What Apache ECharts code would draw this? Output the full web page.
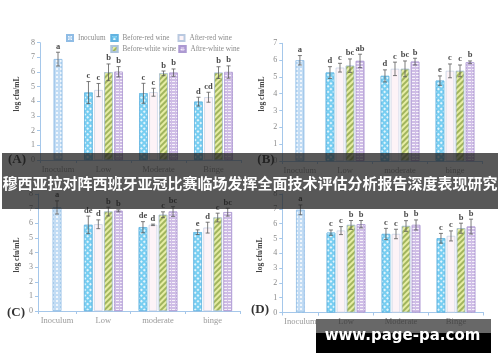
<!DOCTYPE html>
<html><head><meta charset="utf-8">
<script src="https://cdn.jsdelivr.net/npm/echarts@6/dist/echarts.min.js"></script>
<style>html,body{margin:0;padding:0;background:#fff}#c{width:500px;height:362px}</style>
</head><body><div id="c"></div>
<script>
// ---------- data ----------
const seriesNames = ['Inoculum', 'Before-red wine', 'After-red wine', 'Before-white wine', 'Aftre-white wine'];
const inoculumCategory = ['Inoculum'];
const categoriesA = ['Low', 'Moderate', 'Binge'];
const categoriesB = ['Low', 'moderate', 'binge'];
const categoriesC = ['Low', 'moderate', 'binge'];
const categoriesD = ['Low', 'Moderate', 'Binge'];
const yMaxA = 8, yMaxB = 7, yMaxC = 8, yMaxD = 8;
const yAxisName = 'log cfu/mL';
const title = '穆西亚拉对阵西班牙亚冠比赛临场发挥全面技术评估分析报告深度表现研究';
const watermark = 'www.page-pa.com';

// Panel A
const inocA = [6.88], inocErrA = [0.47], inocLblA = ['a'];
const beforeRedA = [4.6, 4.55, 3.98], beforeRedErrA = [0.75, 0.68, 0.3], beforeRedLblA = ['c', 'c', 'd'];
const afterRedA = [4.77, 4.62, 4.28], afterRedErrA = [0.45, 0.27, 0.34], afterRedLblA = ['c', 'c', 'cd'];
const beforeWhiteA = [5.98, 5.91, 5.96], beforeWhiteErrA = [0.57, 0.16, 0.4], beforeWhiteLblA = ['b', 'b', 'b'];
const afterWhiteA = [6.02, 5.96, 6.0], afterWhiteErrA = [0.35, 0.25, 0.42], afterWhiteLblA = ['b', 'b', 'b'];
// Panel B
const inocB = [5.99], inocErrB = [0.28], inocLblB = ['a'];
const beforeRedB = [5.26, 5.06, 4.78], beforeRedErrB = [0.35, 0.36, 0.28], beforeRedLblB = ['d', 'd', 'e'];
const afterRedB = [5.55, 5.48, 5.36], afterRedErrB = [0.26, 0.4, 0.41], afterRedLblB = ['c', 'c', 'c'];
const beforeWhiteB = [5.67, 5.48, 5.36], beforeWhiteErrB = [0.4, 0.47, 0.35], beforeWhiteLblB = ['bc', 'bc', 'c'];
const afterWhiteB = [5.95, 5.91, 5.87], afterWhiteErrB = [0.4, 0.2, 0.08], afterWhiteLblB = ['ab', 'b', 'b'];
// Panel C
const inocC = [7.08], inocErrC = [0.45], inocLblC = ['a'];
const beforeRedC = [5.89, 5.73, 5.39], beforeRedErrC = [0.6, 0.38, 0.16], beforeRedLblC = ['de', 'de', 'e'];
const afterRedC = [5.93, 5.89, 5.7], afterRedErrC = [0.3, 0.05, 0.37], afterRedLblC = ['d', 'd', 'd'];
const beforeWhiteC = [6.8, 6.58, 6.39], beforeWhiteErrC = [0.3, 0.2, 0.3], beforeWhiteLblC = ['b', 'c', 'c'];
const afterWhiteC = [6.85, 6.8, 6.76], afterWhiteErrC = [0.07, 0.33, 0.27], afterWhiteLblC = ['b', 'bc', 'bc'];
// Panel D
const inocD = [6.93], inocErrD = [0.33], inocLblD = ['a'];
const beforeRedD = [5.39, 5.3, 5.01], beforeRedErrD = [0.18, 0.38, 0.33], beforeRedLblD = ['c', 'c', 'c'];
const afterRedD = [5.53, 5.3, 5.17], afterRedErrD = [0.27, 0.32, 0.34], afterRedLblD = ['c', 'c', 'c'];
const beforeWhiteD = [5.91, 5.84, 5.69], beforeWhiteErrD = [0.3, 0.36, 0.34], beforeWhiteLblD = ['b', 'b', 'b'];
const afterWhiteD = [5.96, 5.91, 5.8], afterWhiteErrD = [0.25, 0.34, 0.5], afterWhiteLblD = ['b', 'b', 'b'];

// ---------- styles ----------
const serif = '"Liberation Serif", "DejaVu Serif", serif';
const axisBlue = '#a5c7ea';
const barStyles = [
  {color: '#c2dcf4', borderColor: '#8fbce5', borderWidth: 0.6,
   decal: {symbol: 'rect', symbolSize: 1, dashArrayX: [1.5, 1.5], dashArrayY: [1.5, 1.5], color: 'rgba(255,255,255,0.75)'}},
  {color: '#78cef1', borderColor: '#62b3e1', borderWidth: 0.6,
   decal: {symbol: 'rect', symbolSize: 1, dashArrayX: [2, 1.5], dashArrayY: [2, 1.5], rotation: Math.PI / 4, color: 'rgba(255,255,255,0.8)'}},
  {color: '#fdf3f7', borderColor: '#b9c9e0', borderWidth: 0.6},
  {color: '#e6eda4', borderColor: '#adc3da', borderWidth: 0.6,
   decal: {symbol: 'rect', symbolSize: 1, dashArrayX: [1, 0], dashArrayY: [1.6, 1.6], rotation: -Math.PI / 4, color: 'rgba(125,150,55,0.65)'}},
  {color: '#cfbde6', borderColor: '#ac99d1', borderWidth: 0.6,
   decal: {symbol: 'rect', symbolSize: 1, dashArrayX: [3, 1], dashArrayY: [1, 1.6], color: 'rgba(255,255,255,0.8)'}}
];
const BAR_W = 8.5, BAR_GAP = 0.18;

const grids = [], xAxes = [], yAxes = [], series = [];

function errSeries(name, xi, yi, vals, errs, lbls, offset) {
  return {
    type: 'custom', name: name + ' err', xAxisIndex: xi, yAxisIndex: yi, z: 5, silent: true,
    data: vals.map((v, i) => [i, v, errs[i]]),
    renderItem: function (params, api) {
      const x = api.value(0), v = api.value(1), e = api.value(2);
      const top = api.coord([x, v + e]);
      const bot = api.coord([x, v - e]);
      const cx = top[0] + offset;
      const ls = {stroke: '#5a5a5a', lineWidth: 0.8};
      return {type: 'group', children: [
        {type: 'line', shape: {x1: cx, y1: top[1], x2: cx, y2: bot[1]}, style: ls},
        {type: 'line', shape: {x1: cx - 2, y1: top[1], x2: cx + 2, y2: top[1]}, style: ls},
        {type: 'line', shape: {x1: cx - 2, y1: bot[1], x2: cx + 2, y2: bot[1]}, style: ls},
        {type: 'text', x: cx, y: top[1] - 1.2, style: {text: lbls[params.dataIndex], textAlign: 'center', textVerticalAlign: 'bottom',
          font: 'bold 8.5px ' + serif, fill: '#4a4a4a'}}
      ]};
    }
  };
}

function panel(cfg) {
  const g1 = grids.length;
  grids.push({left: cfg.axisX, top: cfg.top, width: cfg.mainX - cfg.axisX, height: cfg.bottom - cfg.top});
  grids.push({left: cfg.mainX, top: cfg.top, width: cfg.endX - cfg.mainX, height: cfg.bottom - cfg.top});
  const xCommon = {
    type: 'category',
    axisLine: {lineStyle: {color: axisBlue, width: 1}},
    axisTick: {show: true, length: 3, lineStyle: {color: axisBlue}},
    axisLabel: {fontFamily: serif, fontSize: 8.5, color: '#9a9a9a', margin: 5}
  };
  xAxes.push(Object.assign({}, xCommon, {gridIndex: g1, data: inoculumCategory}));
  xAxes.push(Object.assign({}, xCommon, {gridIndex: g1 + 1, data: cfg.cats}));
  yAxes.push({type: 'value', gridIndex: g1, min: 0, max: cfg.yMax, interval: 1,
    axisLine: {show: true, lineStyle: {color: axisBlue, width: 1}},
    axisTick: {show: true, length: 3, lineStyle: {color: axisBlue}},
    axisLabel: {fontFamily: serif, fontSize: 8, color: '#8a8a8a', margin: 5},
    splitLine: {show: false}});
  yAxes.push({type: 'value', gridIndex: g1 + 1, min: 0, max: cfg.yMax, interval: 1, show: false, splitLine: {show: false}});
  series.push({type: 'bar', name: seriesNames[0], xAxisIndex: g1, yAxisIndex: g1, barWidth: BAR_W,
    itemStyle: barStyles[0], data: cfg.inoc});
  series.push(errSeries(seriesNames[0], g1, g1, cfg.inoc, cfg.inocErr, cfg.inocLbl, 0));
  const step = BAR_W * (1 + BAR_GAP);
  for (let k = 0; k < 4; k++) {
    series.push({type: 'bar', name: seriesNames[k + 1], xAxisIndex: g1 + 1, yAxisIndex: g1 + 1,
      barWidth: BAR_W, barGap: (BAR_GAP * 100) + '%', itemStyle: barStyles[k + 1], data: cfg.vals[k]});
  }
  for (let k = 0; k < 4; k++) {
    series.push(errSeries(seriesNames[k + 1], g1 + 1, g1 + 1, cfg.vals[k], cfg.errs[k], cfg.lbls[k], (k - 1.5) * step));
  }
}

panel({axisX: 40, mainX: 76, endX: 241, top: 42.7, bottom: 160, yMax: yMaxA, cats: categoriesA,
  inoc: inocA, inocErr: inocErrA, inocLbl: inocLblA,
  vals: [beforeRedA, afterRedA, beforeWhiteA, afterWhiteA],
  errs: [beforeRedErrA, afterRedErrA, beforeWhiteErrA, afterWhiteErrA],
  lbls: [beforeRedLblA, afterRedLblA, beforeWhiteLblA, afterWhiteLblA]});
panel({axisX: 282.3, mainX: 317.5, endX: 482.5, top: 43.3, bottom: 161, yMax: yMaxB, cats: categoriesB,
  inoc: inocB, inocErr: inocErrB, inocLbl: inocLblB,
  vals: [beforeRedB, afterRedB, beforeWhiteB, afterWhiteB],
  errs: [beforeRedErrB, afterRedErrB, beforeWhiteErrB, afterWhiteErrB],
  lbls: [beforeRedLblB, afterRedLblB, beforeWhiteLblB, afterWhiteLblB]});
panel({axisX: 38, mainX: 76, endX: 240, top: 194, bottom: 311, yMax: yMaxC, cats: categoriesC,
  inoc: inocC, inocErr: inocErrC, inocLbl: inocLblC,
  vals: [beforeRedC, afterRedC, beforeWhiteC, afterWhiteC],
  errs: [beforeRedErrC, afterRedErrC, beforeWhiteErrC, afterWhiteErrC],
  lbls: [beforeRedLblC, afterRedLblC, beforeWhiteLblC, afterWhiteLblC]});
panel({axisX: 282.3, mainX: 318.5, endX: 483.5, top: 194, bottom: 312.5, yMax: yMaxD, cats: categoriesD,
  inoc: inocD, inocErr: inocErrD, inocLbl: inocLblD,
  vals: [beforeRedD, afterRedD, beforeWhiteD, afterWhiteD],
  errs: [beforeRedErrD, afterRedErrD, beforeWhiteErrD, afterWhiteErrD],
  lbls: [beforeRedLblD, afterRedLblD, beforeWhiteLblD, afterWhiteLblD]});

// legends: one component per item, arranged in two rows above panel A
const legendPos = [[66, 34], [110.5, 34], [177.5, 34], [110.5, 45], [178.5, 45]];
const legends = seriesNames.map((n, i) => ({
  data: [n], left: legendPos[i][0], top: legendPos[i][1], padding: 0, itemGap: 0,
  itemWidth: 6, itemHeight: 6, icon: 'rect', selectedMode: false,
  textStyle: {fontFamily: serif, fontSize: 7.2, color: '#8a8a8a'}
}));

const nameStyle = {font: 'bold 7.5px ' + serif, fill: '#444', textAlign: 'center', textVerticalAlign: 'middle', text: yAxisName};
const letterStyle = (t) => ({font: 'bold 13px ' + serif, fill: '#333', textAlign: 'center', textVerticalAlign: 'middle', text: t});

const graphic = [
  {type: 'text', x: 17, y: 94, rotation: Math.PI / 2, style: nameStyle, z: 10},
  {type: 'text', x: 262, y: 94, rotation: Math.PI / 2, style: nameStyle, z: 10},
  {type: 'text', x: 17, y: 255, rotation: Math.PI / 2, style: nameStyle, z: 10},
  {type: 'text', x: 260, y: 255, rotation: Math.PI / 2, style: nameStyle, z: 10},
  {type: 'text', x: 17, y: 160, style: letterStyle('(A)'), z: 10},
  {type: 'text', x: 266, y: 160, style: letterStyle('(B)'), z: 10},
  {type: 'text', x: 16, y: 312.5, style: letterStyle('(C)'), z: 10},
  {type: 'text', x: 260, y: 309.5, style: letterStyle('(D)'), z: 10},
  // banner
  {type: 'rect', shape: {x: 2, y: 153, width: 496, height: 56}, style: {fill: 'rgba(30,30,30,0.74)'}, z: 100},
  {type: 'text', x: 250, y: 183, style: {text: title, font: 'bold 15px "Noto Sans CJK SC", sans-serif', fill: '#ffffff',
    textAlign: 'center', textVerticalAlign: 'middle'}, z: 101},
  // watermark
  {type: 'rect', shape: {x: 316, y: 319, width: 175, height: 14}, style: {fill: 'rgba(40,40,40,0.7)'}, z: 100},
  {type: 'rect', shape: {x: 316, y: 333, width: 175, height: 20}, style: {fill: '#000000'}, z: 100},
  {type: 'text', x: 402.5, y: 336.5, style: {text: watermark, font: 'bold 15px "DejaVu Sans", sans-serif', fill: '#ffffff',
    textAlign: 'center', textVerticalAlign: 'middle'}, z: 101}
];

const chart = echarts.init(document.getElementById('c'), null, {renderer: 'canvas'});
chart.setOption({
  animation: false,
  backgroundColor: '#ffffff',
  grid: grids, xAxis: xAxes, yAxis: yAxes, series: series,
  legend: legends, graphic: graphic
});
</script></body></html>
